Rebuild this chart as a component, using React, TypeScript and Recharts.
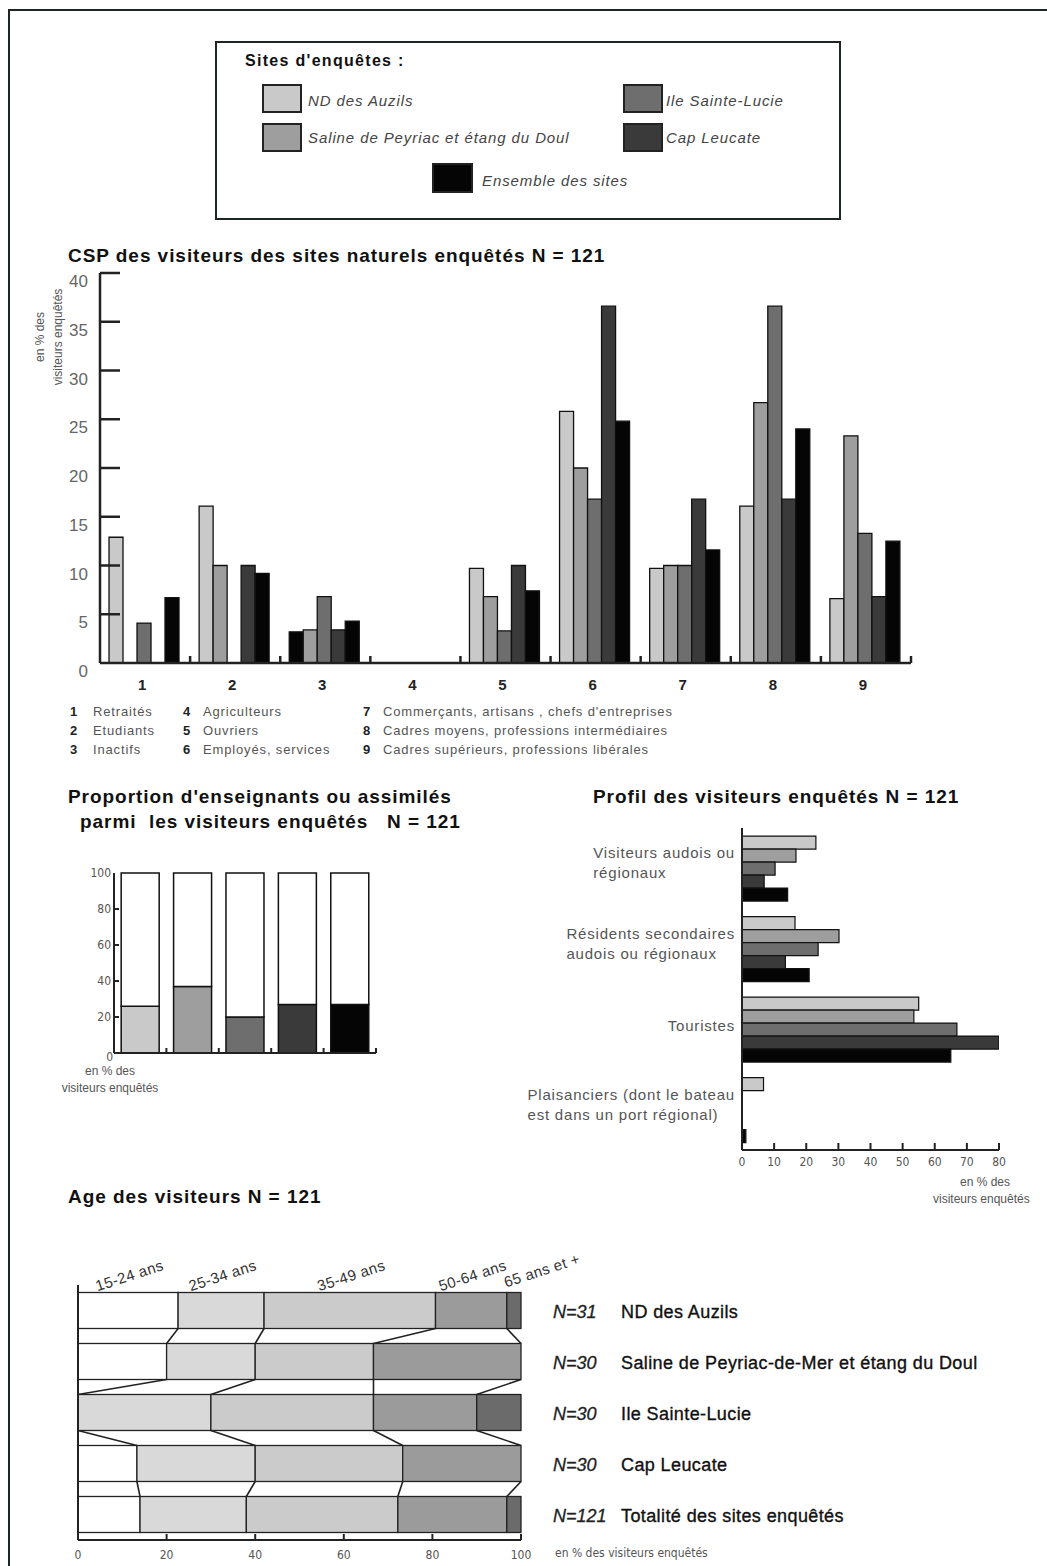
import React from 'react';
import { Bar, BarChart, Cell, ReferenceLine, XAxis, YAxis } from 'recharts';

const FONT = '"Liberation Sans", Arial, sans-serif';
const NARROW = '"Liberation Sans Narrow", "DejaVu Sans Condensed", "Liberation Sans", sans-serif';

// sites
const siteNames = ['ND des Auzils', 'Saline de Peyriac et étang du Doul', 'Ile Sainte-Lucie', 'Cap Leucate', 'Ensemble des sites'];
const siteKeys = ['nd', 'saline', 'ile', 'cap', 'ens'];
const siteColors = ['#c9c9c9', '#9e9e9e', '#6e6e6e', '#3a3a3a', '#050505'];

// CSP
const cspCategories = ['1', '2', '3', '4', '5', '6', '7', '8', '9'];
const cspNames = [
  'Retraités',
  'Etudiants',
  'Inactifs',
  'Agriculteurs',
  'Ouvriers',
  'Employés, services',
  "Commerçants, artisans , chefs d'entreprises",
  'Cadres moyens, professions intermédiaires',
  'Cadres supérieurs, professions libérales',
];
const cspNd = [12.9, 16.1, 3.2, 0, 9.7, 25.8, 9.7, 16.1, 6.6];
const cspSaline = [0, 10, 3.4, 0, 6.8, 20, 10, 26.7, 23.3];
const cspIle = [4.1, 0, 6.8, 0, 3.3, 16.8, 10, 36.6, 13.3];
const cspCap = [0, 10, 3.4, 0, 10, 36.6, 16.8, 16.8, 6.8];
const cspEns = [6.7, 9.2, 4.3, 0, 7.4, 24.8, 11.6, 24, 12.5];
const cspTicks = [0, 5, 10, 15, 20, 25, 30, 35, 40];

// enseignants
const teachShare = [26, 37, 20, 27, 27];
const propTicks = [0, 20, 40, 60, 80, 100];

// profil
const profilCategories = [
  'Visiteurs audois ou\nrégionaux',
  'Résidents secondaires\naudois ou régionaux',
  'Touristes',
  'Plaisanciers (dont le bateau\nest dans un port régional)',
];
const profilNd = [23, 16.5, 55, 6.7];
const profilSaline = [16.8, 30.2, 53.5, 0];
const profilIle = [10.3, 23.7, 66.9, 0];
const profilCap = [6.9, 13.5, 80, 0];
const profilEns = [14.2, 20.9, 65, 1.2];
const profilTicks = [0, 10, 20, 30, 40, 50, 60, 70, 80];

// age
const ageGroups = ['15-24 ans', '25-34 ans', '35-49 ans', '50-64 ans', '65 ans et +'];
const ageSites = ['ND des Auzils', 'Saline de Peyriac-de-Mer et étang du Doul', 'Ile Sainte-Lucie', 'Cap Leucate', 'Totalité des sites enquêtés'];
const ageN = ['N=31', 'N=30', 'N=30', 'N=30', 'N=121'];
const age1524 = [22.6, 20, 0, 13.3, 14];
const age2534 = [19.4, 20, 30, 26.7, 24];
const age3549 = [38.7, 26.7, 36.7, 33.3, 34.2];
const age5064 = [16.1, 33.3, 23.3, 26.7, 24.6];
const age65 = [3.2, 0, 10, 0, 3.2];
const ageTicks = [0, 20, 40, 60, 80, 100];
const ageColors = ['#ffffff', '#d9d9d9', '#cbcbcb', '#9b9b9b', '#6b6b6b'];

const cspData = cspCategories.map((cat, i) => ({
  cat,
  nd: cspNd[i],
  saline: cspSaline[i],
  ile: cspIle[i],
  cap: cspCap[i],
  ens: cspEns[i],
}));
const propData = siteNames.map((site, i) => ({ site, teach: teachShare[i], rest: 100 - teachShare[i] }));
const profilData = profilCategories.map((cat, i) => ({
  cat,
  nd: profilNd[i],
  saline: profilSaline[i],
  ile: profilIle[i],
  cap: profilCap[i],
  ens: profilEns[i],
}));
const ageSeries = [age1524, age2534, age3549, age5064, age65];
const ageData = ageSites.map((site, i) => ({
  site,
  a0: age1524[i],
  a1: age2534[i],
  a2: age3549[i],
  a3: age5064[i],
  a4: age65[i],
}));

const AGE_H = 326;
const AGE_MARGIN = { top: 45, right: 49, bottom: 6, left: 38 };
const AGE_XAXIS_H = 20;
const AGE_PITCH = (AGE_H - AGE_MARGIN.top - AGE_MARGIN.bottom - AGE_XAXIS_H) / ageSites.length;

let measureCtx: CanvasRenderingContext2D | null = null;
function measure(text: string, font: string, spacing: number) {
  if (!measureCtx) measureCtx = document.createElement('canvas').getContext('2d');
  if (!measureCtx) return text.length * 7;
  measureCtx.font = font;
  return measureCtx.measureText(text).width + spacing * text.length;
}

function Txt({ x, y, size = 14, color = '#222', bold = false, italic = false, anchor = 'start', spacing = 0, family = FONT, children }: any) {
  const shift = anchor === 'middle' ? 'translateX(-50%)' : anchor === 'end' ? 'translateX(-100%)' : undefined;
  return (
    <div
      style={{
        position: 'absolute',
        left: x,
        top: y - size * 0.5,
        fontSize: size,
        lineHeight: `${size}px`,
        color,
        fontWeight: bold ? 'bold' : 'normal',
        fontStyle: italic ? 'italic' : 'normal',
        letterSpacing: spacing,
        fontFamily: family,
        whiteSpace: 'nowrap',
        transform: shift,
      }}
    >
      {children}
    </div>
  );
}

function Swatch({ x, y, w, h, color }: any) {
  return (
    <div
      style={{
        position: 'absolute',
        left: x,
        top: y,
        width: w,
        height: h,
        boxSizing: 'border-box',
        border: '2px solid #222',
        background: color,
      }}
    />
  );
}

function CspXTick(props: any) {
  const { x, y, payload } = props;
  const half = payload?.offset ?? 45;
  return (
    <g>
      <line x1={x + half} x2={x + half} y1={y} y2={y - 7} stroke="#222" strokeWidth={2.5} />
      <text x={x - 3} y={y + 27} textAnchor="middle" fontSize={15} fontWeight="bold" fill="#222" fontFamily={FONT}>
        {payload.value}
      </text>
    </g>
  );
}

function CspYTick(props: any) {
  const { x, y, payload } = props;
  return (
    <g>
      {payload.value > 0 && <line x1={x} x2={x + 20} y1={y} y2={y} stroke="#222" strokeWidth={2.5} />}
      <text x={x - 12} y={y + 14} textAnchor="end" fontSize={17} fill="#666" fontFamily={FONT}>
        {payload.value}
      </text>
    </g>
  );
}

function PropXTick(props: any) {
  const { x, y, payload } = props;
  const half = payload?.offset ?? 26;
  return <line x1={x + half} x2={x + half} y1={y} y2={y - 5} stroke="#222" strokeWidth={2} />;
}

function PropYTick(props: any) {
  const { x, y, payload } = props;
  const v = payload.value;
  return (
    <g>
      {v > 0 && v < 100 && <line x1={x} x2={x + 5} y1={y} y2={y} stroke="#222" strokeWidth={2} />}
      <text
        x={v === 0 ? x - 1 : x - 3}
        y={v === 0 ? y + 8 : y + 4}
        textAnchor="end"
        fontSize={12}
        fill="#555"
        fontFamily={NARROW}
      >
        {v}
      </text>
    </g>
  );
}

function ProfilXTick(props: any) {
  const { x, y, payload } = props;
  return (
    <g>
      <line x1={x} x2={x} y1={y} y2={y - 7} stroke="#222" strokeWidth={2} />
      <text x={x} y={y + 16} textAnchor="middle" fontSize={12} fill="#555" fontFamily={NARROW}>
        {payload.value}
      </text>
    </g>
  );
}

function ProfilYTick(props: any) {
  const { x, y, payload } = props;
  const lines = String(payload.value).split('\n');
  const font = `15px ${FONT}`;
  const w = Math.max(...lines.map((l) => measure(l, font, 0.8)));
  const startX = x - 7 - w;
  const firstCenter = lines.length > 1 ? y - 15 : y - 3;
  return (
    <g>
      {lines.map((l, i) => (
        <text key={i} x={startX} y={firstCenter + i * 20 + 5} fontSize={15} letterSpacing={0.8} fill="#555" fontFamily={FONT}>
          {l}
        </text>
      ))}
    </g>
  );
}

function AgeXTick(props: any) {
  const { x, y, payload } = props;
  return (
    <g>
      <line x1={x} x2={x} y1={y} y2={y - 6} stroke="#222" strokeWidth={2} />
      <text x={x} y={y + 19} textAnchor="middle" fontSize={12} fill="#555" fontFamily={NARROW}>
        {payload.value}
      </text>
    </g>
  );
}

function AgeSiteTick(props: any) {
  const { x, y, payload } = props;
  const i = ageSites.indexOf(payload.value);
  return (
    <g fontFamily={FONT}>
      <text x={x + 32} y={y + 7} fontSize={18} fontStyle="italic" fill="#222" stroke="#222" strokeWidth={0.3}>
        {ageN[i]}
      </text>
      <text x={x + 100} y={y + 7} fontSize={18} letterSpacing={0.4} fill="#111" stroke="#111" strokeWidth={0.35}>
        {payload.value}
      </text>
    </g>
  );
}

function cumulative(row: number) {
  const out: number[] = [];
  let s = 0;
  for (let k = 0; k < ageSeries.length; k++) {
    s += ageSeries[k][row];
    out.push(s);
  }
  return out;
}

function ageShape(k: number) {
  return (props: any) => {
    const { x, y, width, height, payload } = props;
    const row = props.index ?? ageSites.indexOf(payload?.site);
    const parts: React.ReactNode[] = [];
    if (width > 0) {
      parts.push(
        <rect key="r" x={x} y={y} width={width} height={height} fill={ageColors[k]} stroke="#222" strokeWidth={1.3} />,
      );
    }
    // connectors between rows, drawn once per row from the 35-49 segment
    if (k === 2 && row < ageSites.length - 1 && age3549[row] > 0) {
      const ppu = width / age3549[row];
      const left = x - (age1524[row] + age2534[row]) * ppu;
      const cur = cumulative(row);
      const next = cumulative(row + 1);
      for (let b = 0; b < 4; b++) {
        parts.push(
          <line
            key={`c${b}`}
            x1={left + cur[b] * ppu}
            y1={y + height}
            x2={left + next[b] * ppu}
            y2={y + AGE_PITCH}
            stroke="#222"
            strokeWidth={1.6}
          />,
        );
      }
    }
    if (row === 0 && width > 0) {
      const cx = x + width / 2;
      const last = k === ageGroups.length - 1;
      const tx = last ? cx - 8 : cx + 3;
      const ty = last ? y - 5 : y - 12;
      parts.push(
        <text
          key="t"
          x={tx}
          y={ty}
          textAnchor={last ? 'start' : 'middle'}
          fontSize={15}
          letterSpacing={0.4}
          fill="#333"
          fontFamily={FONT}
          transform={`rotate(-18 ${tx} ${ty})`}
        >
          {ageGroups[k]}
        </text>,
      );
    }
    return <g>{parts}</g>;
  };
}

export default function App() {
  const axisStyle = { stroke: '#222', strokeWidth: 2.5 };
  const thinAxis = { stroke: '#222', strokeWidth: 2 };
  return (
    <div style={{ position: 'relative', width: 1047, height: 1566, overflow: 'hidden', background: '#fff', fontFamily: FONT }}>
      <style>{'body{margin:0}'}</style>
      <div style={{ position: 'absolute', left: 8, top: 9, width: 1100, height: 1600, border: '2.5px solid #1d2621' }} />

      {/* legend */}
      <div
        style={{
          position: 'absolute',
          left: 215,
          top: 41,
          width: 626,
          height: 179,
          boxSizing: 'border-box',
          border: '2px solid #1d2621',
        }}
      />
      <Txt x={245} y={61} size={16} bold color="#111" spacing={1.3}>
        Sites d'enquêtes :
      </Txt>
      <Swatch x={262} y={84} w={40} h={29} color={siteColors[0]} />
      <Txt x={308} y={100} size={15} italic color="#444" spacing={0.9}>
        {siteNames[0]}
      </Txt>
      <Swatch x={262} y={123} w={40} h={29} color={siteColors[1]} />
      <Txt x={308} y={137} size={15} italic color="#444" spacing={0.9}>
        {siteNames[1]}
      </Txt>
      <Swatch x={623} y={84} w={40} h={29} color={siteColors[2]} />
      <Txt x={666} y={100} size={15} italic color="#444" spacing={0.9}>
        {siteNames[2]}
      </Txt>
      <Swatch x={623} y={123} w={40} h={29} color={siteColors[3]} />
      <Txt x={666} y={137} size={15} italic color="#444" spacing={0.9}>
        {siteNames[3]}
      </Txt>
      <Swatch x={432} y={163} w={41} h={30} color={siteColors[4]} />
      <Txt x={482} y={180} size={15} italic color="#444" spacing={0.9}>
        {siteNames[4]}
      </Txt>

      {/* CSP */}
      <Txt x={68} y={255} size={19} bold color="#111" spacing={0.95}>
        CSP des visiteurs des sites naturels enquêtés N = 121
      </Txt>
      <div
        style={{
          position: 'absolute',
          left: 49,
          top: 337,
          transform: 'translate(-50%, -50%) rotate(-90deg)',
          fontSize: 12,
          lineHeight: '18px',
          color: '#555',
          textAlign: 'center',
          whiteSpace: 'nowrap',
        }}
      >
        en % des
        <br />
        visiteurs enquêtés
      </div>
      <div style={{ position: 'absolute', left: 0, top: 240 }}>
        <BarChart
          width={960}
          height={470}
          data={cspData}
          margin={{ top: 33, right: 49, bottom: 17, left: 30 }}
          barCategoryGap="10%"
          barGap={0}
        >
          <XAxis
            dataKey="cat"
            height={30}
            axisLine={axisStyle}
            tickLine={false}
            tickSize={0}
            tickMargin={0}
            interval={0}
            tick={(p: any) => <CspXTick {...p} />}
          />
          <YAxis
            width={70}
            domain={[0, 40]}
            ticks={cspTicks}
            axisLine={axisStyle}
            tickLine={false}
            tickSize={0}
            tickMargin={0}
            interval={0}
            tick={(p: any) => <CspYTick {...p} />}
          />
          {siteKeys.map((key, si) => (
            <Bar key={key} dataKey={key} fill={siteColors[si]} stroke="#111" strokeWidth={1.3} isAnimationActive={false}>
              {si === 0 && cspData.map((_, ci) => <Cell key={ci} fill={ci === 2 ? '#050505' : siteColors[0]} />)}
            </Bar>
          ))}
        </BarChart>
      </div>
      {cspCategories.map((c, i) => {
        const col = Math.floor(i / 3);
        const row = i % 3;
        const nx = [70, 183, 363][col];
        const tx = [93, 203, 383][col];
        const y = 711 + row * 19;
        return (
          <React.Fragment key={c}>
            <Txt x={nx} y={y} size={13} bold color="#222">
              {c}
            </Txt>
            <Txt x={tx} y={y} size={13} color="#555" spacing={0.85}>
              {cspNames[i]}
            </Txt>
          </React.Fragment>
        );
      })}

      {/* enseignants */}
      <Txt x={68} y={796} size={19} bold color="#111" spacing={0.95}>
        Proportion d'enseignants ou assimilés
      </Txt>
      <Txt x={80} y={821} size={19} bold color="#111" spacing={0.95}>
        {'parmi\u00a0 les visiteurs enquêtés \u00a0 N = 121'}
      </Txt>
      <div style={{ position: 'absolute', left: 40, top: 850 }}>
        <BarChart
          width={360}
          height={230}
          data={propData}
          margin={{ top: 23, right: 24, bottom: 17, left: 24 }}
          barCategoryGap="13.7%"
        >
          <XAxis
            dataKey="site"
            height={10}
            axisLine={thinAxis}
            tickLine={false}
            tickSize={0}
            tickMargin={0}
            interval={0}
            tick={(p: any) => <PropXTick {...p} />}
          />
          <YAxis
            width={50}
            domain={[0, 100]}
            ticks={propTicks}
            axisLine={thinAxis}
            tickLine={false}
            tickSize={0}
            tickMargin={0}
            interval={0}
            tick={(p: any) => <PropYTick {...p} />}
          />
          <Bar dataKey="teach" stackId="a" stroke="#111" strokeWidth={1.5} isAnimationActive={false}>
            {propData.map((_, i) => (
              <Cell key={i} fill={siteColors[i]} />
            ))}
          </Bar>
          <Bar dataKey="rest" stackId="a" fill="#ffffff" stroke="#111" strokeWidth={1.5} isAnimationActive={false} />
        </BarChart>
      </div>
      <Txt x={110} y={1071} size={12} color="#555" anchor="middle">
        en % des
      </Txt>
      <Txt x={110} y={1088} size={12} color="#555" anchor="middle">
        visiteurs enquêtés
      </Txt>

      {/* profil */}
      <Txt x={593} y={796} size={19} bold color="#111" spacing={0.95}>
        Profil des visiteurs enquêtés N = 121
      </Txt>
      <div style={{ position: 'absolute', left: 500, top: 800 }}>
        <BarChart
          layout="vertical"
          width={547}
          height={420}
          data={profilData}
          margin={{ top: 28, right: 48, bottom: 50, left: 0 }}
          barCategoryGap="10%"
          barGap={0}
        >
          <XAxis
            type="number"
            domain={[0, 80]}
            ticks={profilTicks}
            height={20}
            axisLine={thinAxis}
            tickLine={false}
            tickSize={0}
            tickMargin={0}
            interval={0}
            allowDataOverflow
            tick={(p: any) => <ProfilXTick {...p} />}
          />
          <YAxis
            type="category"
            dataKey="cat"
            width={242}
            axisLine={thinAxis}
            tickLine={false}
            tickSize={0}
            tickMargin={0}
            interval={0}
            tick={(p: any) => <ProfilYTick {...p} />}
          />
          {siteKeys.map((key, si) => (
            <Bar key={key} dataKey={key} fill={siteColors[si]} stroke="#111" strokeWidth={1.2} isAnimationActive={false} />
          ))}
        </BarChart>
      </div>
      <Txt x={960} y={1182} size={12} color="#555">
        en % des
      </Txt>
      <Txt x={933} y={1199} size={12} color="#555">
        visiteurs enquêtés
      </Txt>

      {/* age */}
      <Txt x={68} y={1196} size={19} bold color="#111" spacing={0.95}>
        Age des visiteurs N = 121
      </Txt>
      <div style={{ position: 'absolute', left: 40, top: 1240 }}>
        <BarChart
          layout="vertical"
          width={1000}
          height={AGE_H}
          data={ageData}
          margin={AGE_MARGIN}
          barCategoryGap="14.7%"
        >
          <XAxis
            type="number"
            domain={[0, 100]}
            ticks={ageTicks}
            height={AGE_XAXIS_H}
            axisLine={thinAxis}
            tickLine={false}
            tickSize={0}
            tickMargin={0}
            interval={0}
            tick={(p: any) => <AgeXTick {...p} />}
          />
          <YAxis
            type="category"
            dataKey="site"
            orientation="right"
            width={470}
            axisLine={false}
            tickLine={false}
            tickSize={0}
            tickMargin={0}
            interval={0}
            tick={(p: any) => <AgeSiteTick {...p} />}
          />
          <ReferenceLine x={0} stroke="#222" strokeWidth={2} />
          {ageGroups.map((g, k) => (
            <Bar key={g} dataKey={`a${k}`} stackId="age" fill={ageColors[k]} shape={ageShape(k)} isAnimationActive={false} />
          ))}
        </BarChart>
      </div>
      <Txt x={555} y={1553} size={12} color="#555" family={NARROW}>
        en % des visiteurs enquêtés
      </Txt>
    </div>
  );
}
